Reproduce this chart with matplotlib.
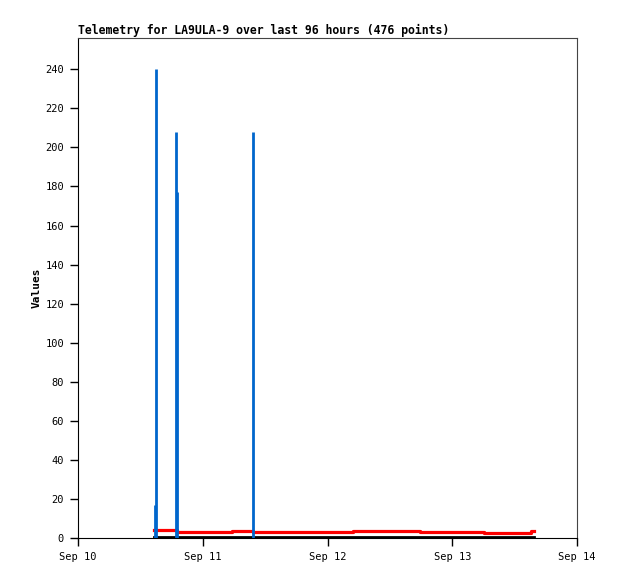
from datetime import datetime, timedelta

import matplotlib
matplotlib.use("Agg")
import matplotlib.dates as mdates
import matplotlib.pyplot as plt

START = datetime(2023, 9, 10)

# hours after Sep 10 00:00
SPIKE_HOURS = [14.8, 15.0, 18.8, 19.1, 33.7]
SPIKE_VALUES = [17, 240, 208, 177, 208]

RED_HOURS = [14.6, 19.0, 22.5, 29.6, 33.7, 39.8, 52.9, 65.8, 78.1, 87.1, 87.7]
RED_VALUES = [4.1, 3.0, 3.3, 3.8, 3.0, 3.3, 3.8, 3.3, 2.8, 3.8, 3.8]

BLACK_HOURS = [14.6, 87.7]
BLACK_VALUES = [0.3, 0.3]


def to_dates(hours):
    return [START + timedelta(hours=h) for h in hours]


plt.rcParams["font.family"] = "DejaVu Sans Mono"

fig = plt.figure(figsize=(6.18, 5.79), dpi=100)
ax = fig.add_axes([78 / 618, 41 / 579, 499 / 618, 500 / 579])

ax.step(to_dates(RED_HOURS), RED_VALUES, where="post", color="#ff0000",
        linewidth=2.3, zorder=2)
ax.plot(to_dates(BLACK_HOURS), BLACK_VALUES, color="black", linewidth=2.0, zorder=3)
ax.vlines(to_dates(SPIKE_HOURS), 0, SPIKE_VALUES, color="#0066cc",
          linewidth=2.0, zorder=4)

ax.set_xlim(START, START + timedelta(days=4))
ax.set_ylim(0, 256)
ax.set_yticks(range(0, 241, 20))
ax.xaxis.set_major_locator(mdates.DayLocator())
ax.xaxis.set_major_formatter(mdates.DateFormatter("%b %d"))

ax.tick_params(direction="out", length=6, width=1, labelsize=7.5, pad=4)
ax.tick_params(axis="x", pad=4)
for side in ("top", "right"):
    ax.spines[side].set_color("#444444")
for side in ("left", "bottom"):
    ax.spines[side].set_color("black")

ax.set_ylabel("Values", fontsize=8, fontweight="bold", labelpad=3)
ax.set_title("Telemetry for LA9ULA-9 over last 96 hours (476 points)",
             loc="left", fontsize=8.3, fontweight="bold", pad=3)

fig.savefig("out.png", dpi=100)
